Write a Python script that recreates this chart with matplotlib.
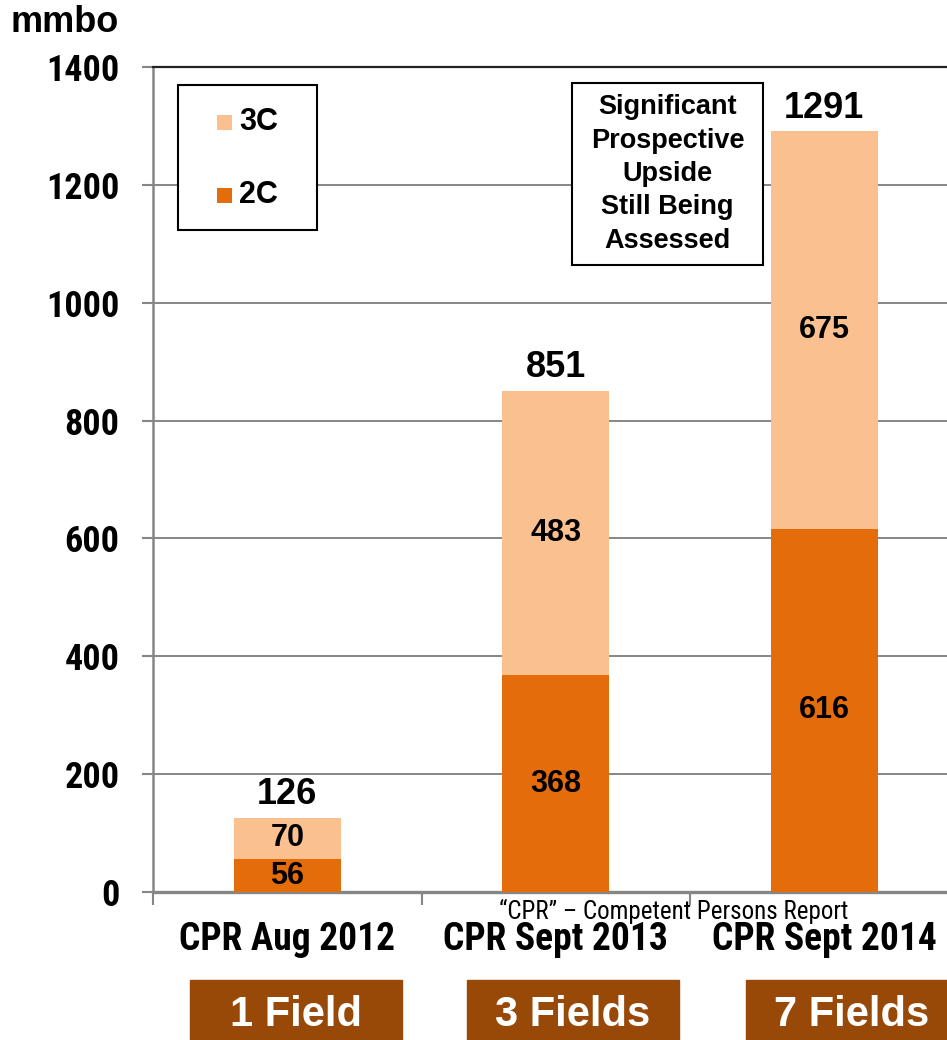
import numpy as np
import matplotlib
matplotlib.use('Agg')
from matplotlib import pyplot as plt
from matplotlib import font_manager
from matplotlib.font_manager import FontProperties
from matplotlib.patches import Rectangle

# data
categories = ['CPR Aug 2012', 'CPR Sept 2013', 'CPR Sept 2014']
fields = ['1 Field', '3 Fields', '7 Fields']
c2 = [56, 368, 616]
c3 = [70, 483, 675]
totals = [126, 851, 1291]
yticks = [0, 200, 400, 600, 800, 1000, 1200, 1400]
legend_labels = ['3C', '2C']
note = '\u201cCPR\u201d \u2013 Competent Persons Report'
upside = 'Significant\nProspective\nUpside\nStill Being\nAssessed'

ORANGE = '#E46C0A'
PEACH = '#FAC090'
BROWN = '#984807'
GREY = '#868686'

plt.rcParams['font.family'] = ['Liberation Sans', 'DejaVu Sans']


def _w(f):
    if isinstance(f.weight, str):
        return font_manager.weight_dict.get(f.weight, 400)
    return f.weight


def find_narrow(bold):
    # look for some condensed face, Arial Narrow is what the original used
    prefs = ['Liberation Sans Narrow', 'Arial Narrow', 'Roboto Condensed',
             'DejaVu Sans', 'Noto Sans', 'Open Sans', 'Roboto']
    for name in prefs:
        for f in font_manager.fontManager.ttflist:
            if f.name != name:
                continue
            narrow = ('Narrow' in name or 'Condensed' in name
                      or f.stretch in ('condensed', 'semi-condensed'))
            if narrow and (_w(f) >= 600) == bold and f.style == 'normal':
                return f.fname
    return None


nb = find_narrow(True)
nr = find_narrow(False)


def narrow_bold(size):
    if nb:
        return FontProperties(fname=nb, size=size)
    return FontProperties(family='Liberation Sans', weight='bold', size=size * 0.82)


def narrow_reg(size):
    if nr:
        return FontProperties(fname=nr, size=size)
    return FontProperties(family='Liberation Sans', size=size * 0.9)


fig = plt.figure(figsize=(9.47, 10.4), dpi=100)
ax = fig.add_axes([153/947, 1 - 892/1040, 805.5/947, 825/1040])

x = np.arange(len(categories))
ax.bar(x, c2, width=0.4, color=ORANGE, zorder=3)
ax.bar(x, c3, width=0.4, bottom=c2, color=PEACH, zorder=3)

ax.set_xlim(-0.5, 2.5)
ax.set_ylim(0, 1400)
ax.set_yticks(yticks)
ax.set_yticklabels([str(v) for v in yticks], fontproperties=narrow_bold(26))
ax.tick_params(axis='y', length=8, width=1.5, color=GREY, pad=16)
ax.set_xticks([-0.5, 0.5, 1.5, 2.5])
ax.set_xticklabels([])
ax.tick_params(axis='x', length=9, width=1.5, color=GREY)
ax.yaxis.grid(True, color=GREY, lw=1.4, zorder=0)
ax.set_axisbelow(True)

ax.spines['top'].set_color('#222222')
ax.spines['top'].set_linewidth(1.6)
ax.spines['right'].set_visible(False)
ax.spines['left'].set_color(GREY)
ax.spines['left'].set_linewidth(1.8)
ax.spines['bottom'].set_color(GREY)
ax.spines['bottom'].set_linewidth(2.4)

# segment labels + totals
for i in range(len(categories)):
    ax.text(x[i], c2[i] / 2, str(c2[i]), ha='center', va='center',
            fontsize=22, fontweight='bold', zorder=4)
    ax.text(x[i], c2[i] + c3[i] / 2, str(c3[i]), ha='center', va='center',
            fontsize=22, fontweight='bold', zorder=4)
    ax.annotate(str(totals[i]), (x[i], totals[i]), xytext=(0, 4),
                textcoords='offset points', ha='center', va='bottom',
                fontsize=26, fontweight='bold', zorder=4)

# category labels
for i, lab in enumerate(categories):
    ax.text(x[i], -0.058, lab, transform=ax.get_xaxis_transform(),
            ha='center', va='center', fontproperties=narrow_bold(27))

ax.text(1.44, -0.023, note, transform=ax.get_xaxis_transform(),
        ha='center', va='center', fontproperties=narrow_reg(18))

# legend drawn by hand (pixel layout of the original box)
def axfrac(px, py):
    return (px - 153) / 805.5, (892 - py) / 825

lx0, ly0 = axfrac(178, 230)
lx1, ly1 = axfrac(317, 85)
ax.add_patch(Rectangle((lx0, ly0), lx1 - lx0, ly1 - ly0, transform=ax.transAxes,
                       fc='white', ec='black', lw=1.5, zorder=5))
for lab, col, py in zip(legend_labels, [PEACH, ORANGE], [122, 195]):
    mx0, my0 = axfrac(217, py + 7.5)
    mx1, my1 = axfrac(232, py - 7.5)
    ax.add_patch(Rectangle((mx0, my0), mx1 - mx0, my1 - my0, transform=ax.transAxes,
                           fc=col, ec='none', zorder=6))
    tx, ty = axfrac(239, py)
    ax.text(tx, ty, lab, transform=ax.transAxes, ha='left', va='center',
            fontsize=22, fontweight='bold', zorder=6)

# annotation box
bx0, by0 = axfrac(572, 265)
bx1, by1 = axfrac(763, 83)
ax.add_patch(Rectangle((bx0, by0), bx1 - bx0, by1 - by0, transform=ax.transAxes,
                       fc='white', ec='black', lw=1.5, zorder=5))
ax.text((bx0 + bx1) / 2, (by0 + by1) / 2, upside, transform=ax.transAxes,
        ha='center', va='center', fontsize=19.5, fontweight='bold',
        linespacing=1.37, zorder=6)

# field boxes under the chart
box_left = [190, 467, 746]
for i, lab in enumerate(fields):
    l = box_left[i] / 947
    w = 212 / 947
    fig.patches.append(Rectangle((l, -0.02), w, 1 - 980/1040 + 0.02,
                                 transform=fig.transFigure, color=BROWN))
    fig.text(l + w / 2, 1 - 1015/1040, lab, ha='center', va='center',
             color='white', fontsize=30, fontweight='bold')

fig.text(10/947, 1 - 22/1040, 'mmbo', ha='left', va='center',
         fontsize=26, fontweight='bold')

fig.savefig('out.png', dpi=100)
